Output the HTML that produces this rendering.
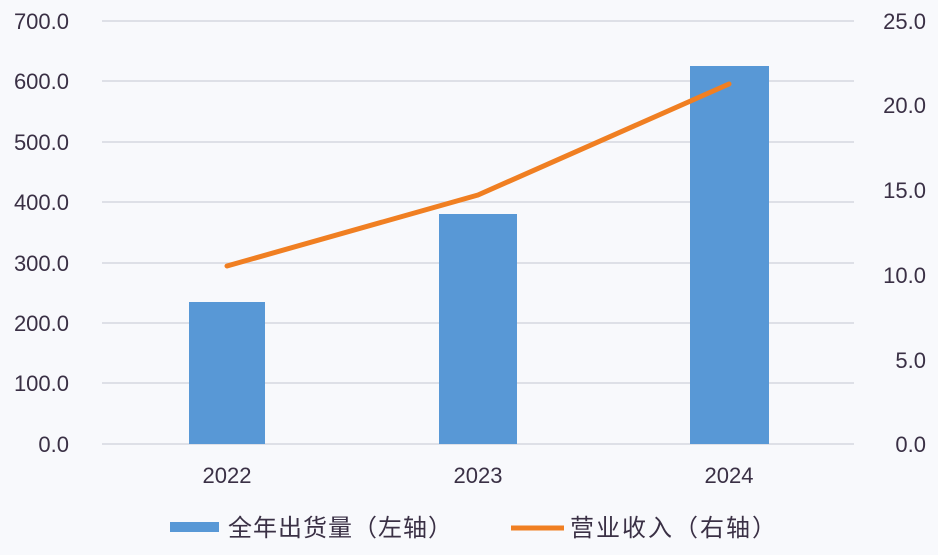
<!DOCTYPE html>
<html><head><meta charset="utf-8"><style>
body{margin:0;background:#f8f9fc;}
svg text{font-family:"Liberation Sans","Noto Sans CJK SC",sans-serif;fill:#3a3045;}
</style></head><body>
<svg width="938" height="550" viewBox="0 0 938 550" xmlns="http://www.w3.org/2000/svg">
<rect width="938" height="550" fill="#f8f9fc"/>
<g stroke="#d6d8e0" stroke-width="1.5">
<line x1="102" x2="854" y1="21" y2="21"/>
<line x1="102" x2="854" y1="81" y2="81"/>
<line x1="102" x2="854" y1="142" y2="142"/>
<line x1="102" x2="854" y1="202" y2="202"/>
<line x1="102" x2="854" y1="263" y2="263"/>
<line x1="102" x2="854" y1="323" y2="323"/>
<line x1="102" x2="854" y1="383" y2="383"/>
<line x1="102" x2="854" y1="444" y2="444"/>
</g>
<g font-size="22" text-anchor="end">
<text x="69" y="29">700.0</text>
<text x="69" y="89">600.0</text>
<text x="69" y="150">500.0</text>
<text x="69" y="210">400.0</text>
<text x="69" y="271">300.0</text>
<text x="69" y="331">200.0</text>
<text x="69" y="391">100.0</text>
<text x="69" y="452">0.0</text>
<text x="926" y="29">25.0</text>
<text x="926" y="113">20.0</text>
<text x="926" y="198">15.0</text>
<text x="926" y="283">10.0</text>
<text x="926" y="368">5.0</text>
<text x="926" y="452">0.0</text>
</g>
<g fill="#5898d6">
<rect x="189" y="302" width="76" height="142"/>
<rect x="439" y="214" width="78" height="230"/>
<rect x="690" y="66" width="79" height="378"/>
</g>
<polyline points="227,266 478,195 729,84" fill="none" stroke="#f07f22" stroke-width="5" stroke-linecap="round" stroke-linejoin="round"/>
<g font-size="22" text-anchor="middle">
<text x="227" y="483">2022</text>
<text x="478" y="483">2023</text>
<text x="729" y="483">2024</text>
</g>
<rect x="170" y="522" width="49" height="10" fill="#5898d6"/>
<text x="228" y="536" font-size="24" letter-spacing="1">全年出货量（左轴）</text>
<line x1="511" x2="564" y1="528" y2="528" stroke="#f07f22" stroke-width="5"/>
<text x="570" y="536" font-size="24" letter-spacing="2">营业收入（右轴）</text>
</svg>
</body></html>
